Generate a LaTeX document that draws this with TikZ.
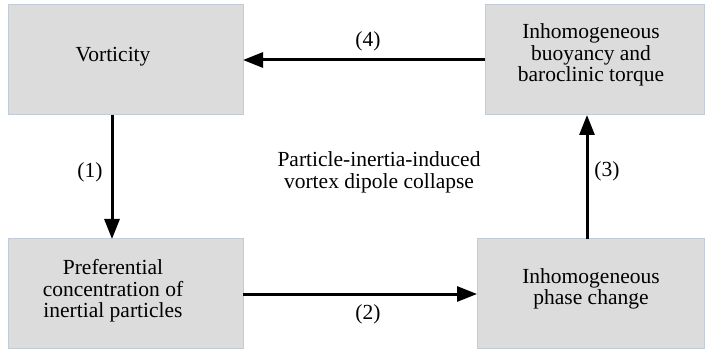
\documentclass[tikz,border=0pt]{standalone}
\usepackage{fontspec}
\setmainfont{Liberation Serif}
\usetikzlibrary{arrows.meta}
\definecolor{boxfill}{HTML}{DCDCDC}
\definecolor{boxline}{HTML}{C2CCD8}
\begin{document}
\begin{tikzpicture}[x=1pt,y=-1pt,
  box/.style={draw=boxline,fill=boxfill,line width=1pt},
  txt/.style={align=center,font=\rmfamily\fontsize{21.5}{21.7}\selectfont,inner sep=0pt},
  lbl/.style={font=\rmfamily\fontsize{21.5}{21.7}\selectfont,inner sep=0pt},
  conn/.style={line width=3pt,-{Triangle[length=20pt,width=15pt]}}]
\useasboundingbox (0,0) rectangle (705,350);
\fill[white] (0,0) rectangle (705,350);
\draw[box] (8,5) rectangle (243,115);
\draw[box] (485,5) rectangle (704,115);
\draw[box] (8,239) rectangle (243,348);
\draw[box] (477,239) rectangle (704,348);
\node[txt] (vt) at (113,57) {Vorticity};
\node[txt] (ib) at (591,55) {Inhomogeneous\\buoyancy and\\baroclinic torque};
\node[txt] (pc) at (113,291) {Preferential\\concentration of\\inertial particles};
\node[txt] (ip) at (591,289) {Inhomogeneous\\phase change};
\node[txt] (ctr) at (379,172) {Particle-inertia-induced\\vortex dipole collapse};
\coordinate (a1s) at (112,115);
\coordinate (a1e) at (112,239);
\coordinate (a2s) at (243,294);
\coordinate (a2e) at (477,294);
\coordinate (a3s) at (587,239);
\coordinate (a3e) at (587,115);
\coordinate (a4s) at (485,60);
\coordinate (a4e) at (243,60);
\draw[conn] (a1s) -- (a1e);
\draw[conn] (a2s) -- (a2e);
\draw[conn] (a3s) -- (a3e);
\draw[conn] (a4s) -- (a4e);
\node[lbl] (l1) at (90,172) {(1)};
\node[lbl] (l2) at (368,314) {(2)};
\node[lbl] (l3) at (607,171) {(3)};
\node[lbl] (l4) at (368,41) {(4)};
\end{tikzpicture}
\end{document}
